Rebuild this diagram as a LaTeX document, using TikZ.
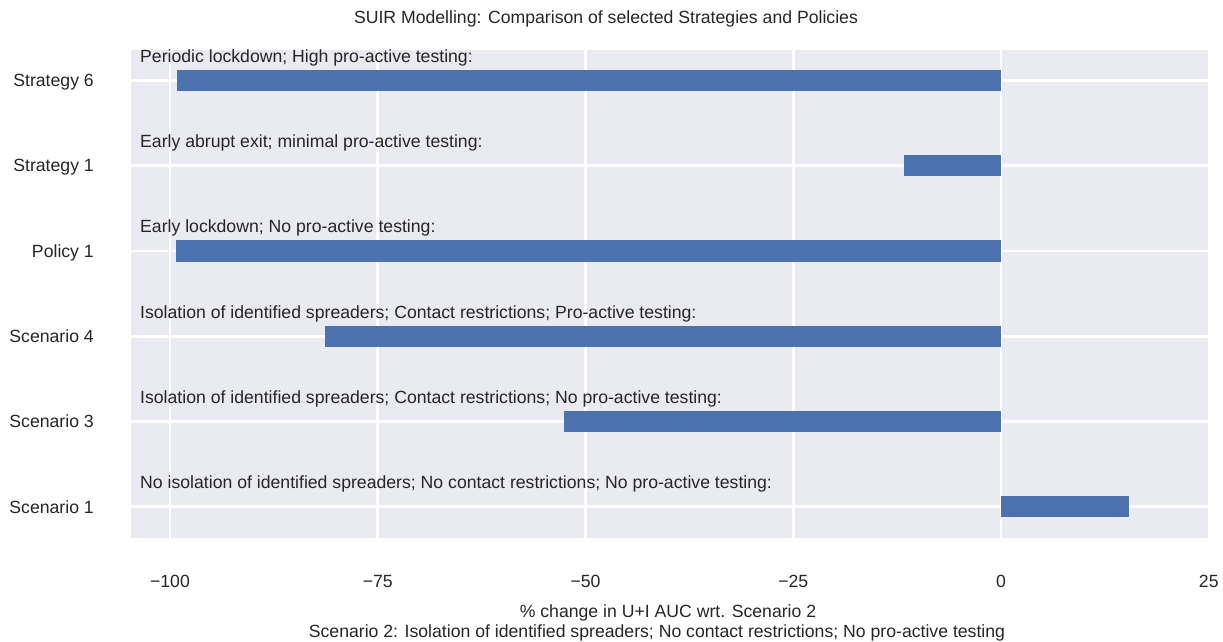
\documentclass[tikz,border=0pt]{standalone}
\usepackage{fontspec}
\setmainfont{Liberation Sans}
\definecolor{bgc}{HTML}{EAEAF2}
\definecolor{barc}{HTML}{4C72B0}
\definecolor{txtc}{HTML}{262626}
\begin{document}
\begin{tikzpicture}[x=1pt,y=-1pt,
  lbl/.style={text=txtc,font=\fontsize{17.65}{20}\selectfont,inner sep=0pt},
  grid/.style={draw=white,line width=2.8pt},
  barbox/.style={fill=barc,draw=none}]
\useasboundingbox (0,0) rectangle (1223,642);
% axes background
\fill[bgc] (131,50) rectangle (1207.5,538);
% vertical grid
\foreach \v in {-100,-75,-50,-25,0} {
  \draw[grid] ({1001+8.31*\v},50) -- ({1001+8.31*\v},538);
}
% horizontal grid
\foreach \i in {0,...,5} {
  \draw[grid] (131,{80.3+85.3*\i}) -- (1207.5,{80.3+85.3*\i});
}
% bars
\foreach \i/\val/\nm in {0/-99.1/b0,1/-11.7/b1,2/-99.3/b2,3/-81.3/b3,4/-52.6/b4,5/15.4/b5} {
  \path[barbox] ({1001+8.31*\val},{80.3+85.3*\i-10.6}) rectangle (1001,{80.3+85.3*\i+10.6});
  \node[inner sep=0pt,minimum size=0pt] (\nm) at ({1001+4.155*\val},{80.3+85.3*\i}) {};
}
% annotation texts
\node[lbl,anchor=base west] (a0) at (140,{80.3-18}) {Periodic lockdown; High pro-active testing:};
\node[lbl,anchor=base west] (a1) at (140,{80.3+85.3-18}) {Early abrupt exit; minimal pro-active testing:};
\node[lbl,anchor=base west] (a2) at (140,{80.3+2*85.3-18}) {Early lockdown; No pro-active testing:};
\node[lbl,anchor=base west] (a3) at (140,{80.3+3*85.3-18}) {Isolation of identified spreaders; Contact restrictions; Pro-active testing:};
\node[lbl,anchor=base west] (a4) at (140,{80.3+4*85.3-18}) {Isolation of identified spreaders; Contact restrictions; No pro-active testing:};
\node[lbl,anchor=base west] (a5) at (140,{80.3+5*85.3-18.5}) {No isolation of identified spreaders; No contact restrictions; No pro-active testing:};
% y tick labels
\node[lbl,anchor=base east] (y0) at (94,{80.3+6.2}) {Strategy 6};
\node[lbl,anchor=base east] (y1) at (94,{80.3+85.3+6.2}) {Strategy 1};
\node[lbl,anchor=base east] (y2) at (94,{80.3+2*85.3+6.2}) {Policy 1};
\node[lbl,anchor=base east] (y3) at (94,{80.3+3*85.3+6.2}) {Scenario 4};
\node[lbl,anchor=base east] (y4) at (94,{80.3+4*85.3+6.2}) {Scenario 3};
\node[lbl,anchor=base east] (y5) at (94,{80.3+5*85.3+6.2}) {Scenario 1};
% x tick labels
\foreach \v/\t/\nm in {-100/−100/x0,-75/−75/x1,-50/−50/x2,-25/−25/x3,0/0/x4,25/25/x5} {
  \node[lbl,anchor=base] (\nm) at ({1001+8.31*\v},587) {\t};
}
% axis label and title
\node[lbl,anchor=base] (xl1) at (668,617) {\% change in U+I AUC wrt. Scenario 2};
\node[lbl,anchor=base] (xl2) at (657,637.5) {Scenario 2: Isolation of identified spreaders; No contact restrictions; No pro-active testing};
\node[lbl,anchor=base] (ttl) at (606,23.3) {SUIR Modelling: Comparison of selected Strategies and Policies};
\end{tikzpicture}
\end{document}
